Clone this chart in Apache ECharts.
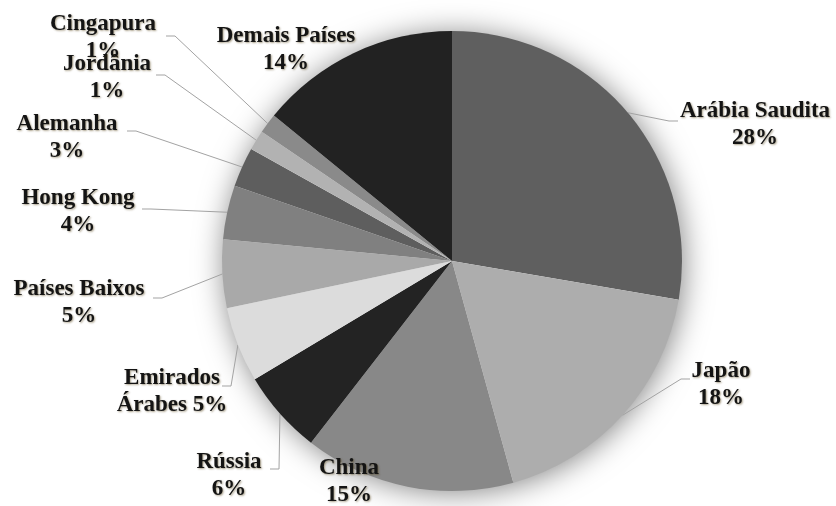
<!DOCTYPE html>
<html>
<head>
<meta charset="utf-8">
<script src="https://cdn.jsdelivr.net/npm/echarts@6/dist/echarts.min.js"></script>
<style>
  html, body { margin: 0; padding: 0; background: #ffffff; }
  #chart { width: 836px; height: 506px; }
</style>
</head>
<body>
<div id="chart"></div>
<script>
// ---- data ----
const categories = ['Arábia Saudita', 'Japão', 'China', 'Rússia', 'Emirados Árabes', 'Países Baixos', 'Hong Kong', 'Alemanha', 'Jordânia', 'Cingapura', 'Demais Países'];
const values = [27.7, 18.0, 14.8, 5.9, 5.3, 4.8, 3.8, 2.8, 1.4, 1.4, 14.1];
const sliceColors = ['#5f5f5f', '#adadad', '#888888', '#232323', '#dcdcdc', '#a9a9a9', '#808080', '#5e5e5e', '#b2b2b2', '#8a8a8a', '#222222'];

// ---- label layout (text block centre, and guide-line end point) ----
const labelCenter = [
  [755, 125], [721, 385], [349, 482], [229, 476], [172, 392], [79, 303],
  [78, 212], [67, 138], [107, 78], [103, 38], [286, 50]
];
const lineEnd = [
  [678, 121], [690, 379], null, [270, 469], [222, 386], [153, 298],
  [142, 209], [127, 131], [156, 75], [166, 36], null
];

const chart = echarts.init(document.getElementById('chart'), null, { renderer: 'canvas' });

const pieData = categories.map((name, i) => {
  const item = { name: name, value: values[i], itemStyle: { color: sliceColors[i] } };
  if (!lineEnd[i]) item.labelLine = { show: false };
  return item;
});

chart.setOption({
  backgroundColor: '#ffffff',
  animation: false,
  textStyle: { fontFamily: 'Liberation Serif, serif' },
  series: [
    {
      type: 'pie',
      silent: true,
      center: [452, 261],
      radius: 229,
      z: 1,
      label: { show: false },
      labelLine: { show: false },
      itemStyle: {
        color: '#ffffff',
        shadowBlur: 30,
        shadowColor: 'rgba(0,0,0,0.5)',
        shadowOffsetX: 2,
        shadowOffsetY: 2
      },
      data: [{ value: 1, name: '' }]
    },
    {
      type: 'pie',
      center: [452, 261],
      radius: 230,
      z: 2,
      startAngle: 90,
      clockwise: true,
      avoidLabelOverlap: false,
      itemStyle: { borderWidth: 0 },
      label: {
        show: true,
        position: 'outside',
        fontFamily: 'Liberation Serif, serif',
        fontWeight: 'bold',
        fontSize: 23,
        lineHeight: 27,
        color: '#141414',
        align: 'center',
        textShadowColor: 'rgba(70,50,0,0.45)',
        textShadowBlur: 2,
        textShadowOffsetX: 1,
        textShadowOffsetY: 1,
        formatter: function (p) {
          const pct = Math.round(p.percent) + '%';
          if (p.name === 'Emirados Árabes') return 'Emirados\nÁrabes ' + pct;
          return p.name + '\n' + pct;
        }
      },
      labelLine: {
        show: true,
        length: 10,
        length2: 10,
        lineStyle: { color: '#a3a3a3', width: 1 }
      },
      labelLayout: function (params) {
        const i = params.dataIndex;
        const c = labelCenter[i];
        const out = { x: c[0], y: c[1], align: 'center', verticalAlign: 'middle' };
        const e = lineEnd[i];
        if (e && params.labelLinePoints && params.labelLinePoints[0]) {
          const p0 = params.labelLinePoints[0];
          const dir = p0[0] > e[0] ? 1 : -1;
          out.labelLinePoints = [p0, [e[0] + dir * 9, e[1]], e];
        }
        return out;
      },
      data: pieData
    }
  ]
});
</script>
</body>
</html>
